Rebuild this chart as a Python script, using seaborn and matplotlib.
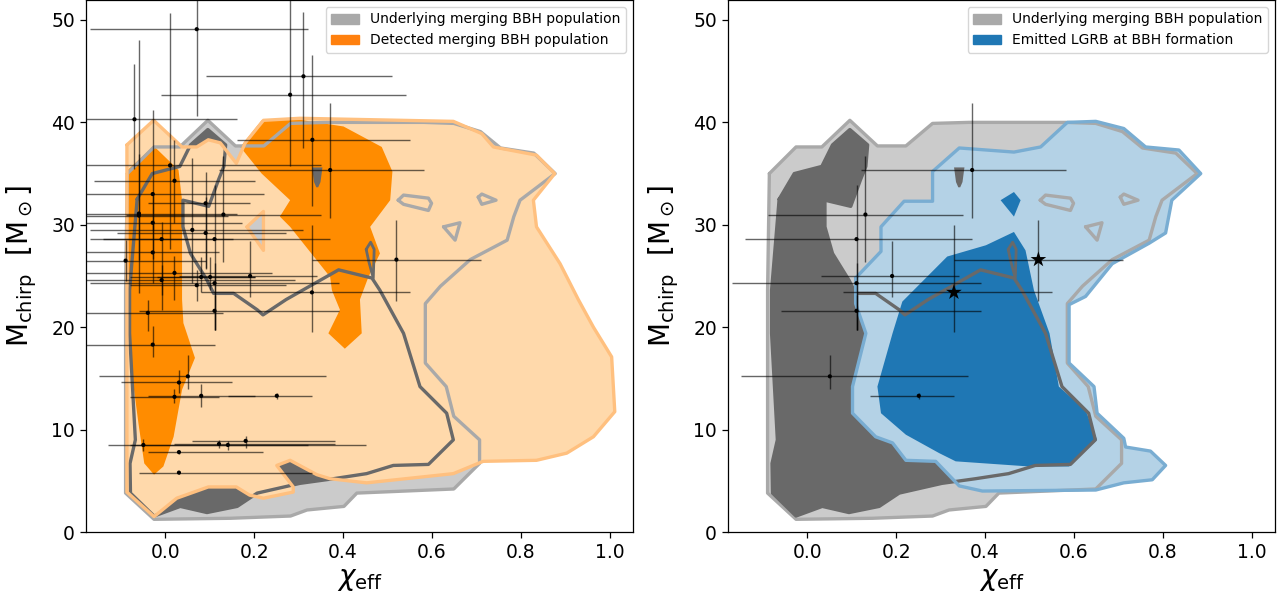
import numpy as np
import seaborn as sns
import matplotlib as mpl
mpl.use('Agg')
import matplotlib.pyplot as plt
from matplotlib.patches import Patch

# ---- contour outlines (chi_eff, M_chirp) ----
under_outer_x = [-0.085, -0.025, 0.033, 0.096, 0.158, 0.222, 0.282, 0.364, 0.581, 0.649, 0.709, 0.754,
                 0.829, 0.877, 0.798, 0.784, 0.769, 0.686, 0.619, 0.585, 0.585, 0.632, 0.649, 0.707,
                 0.707, 0.649, 0.431, 0.402, 0.319, 0.282, 0.147, -0.025, -0.089, -0.089]
under_outer_y = [35.0, 37.6, 37.6, 40.2, 37.7, 37.7, 39.9, 40.0, 40.0, 39.9, 39.1, 37.5,
                 37.0, 35.0, 32.4, 30.8, 28.5, 26.6, 24.0, 22.3, 16.5, 14.2, 11.3, 9.0,
                 6.7, 4.2, 3.8, 2.5, 2.15, 1.56, 1.34, 1.24, 3.8, 23.6]

under_inner_x = [-0.063, -0.029, 0.033, 0.057, 0.096, 0.136, 0.132, 0.12, 0.098, 0.04, 0.04, 0.057,
                 0.094, 0.109, 0.154, 0.207, 0.22, 0.272, 0.39, 0.465, 0.483, 0.536, 0.573, 0.633,
                 0.648, 0.592, 0.513, 0.453, 0.378, 0.303, 0.207, 0.162, 0.094, 0.034, -0.025,
                 -0.078, -0.079, -0.067, -0.08, -0.08]
under_inner_y = [32.5, 35.0, 35.7, 37.8, 39.3, 37.8, 35.7, 34.4, 31.8, 32.4, 29.8, 27.2,
                 24.6, 23.3, 23.3, 21.7, 21.2, 22.7, 25.6, 24.8, 23.6, 19.4, 14.2, 11.6,
                 9.0, 6.6, 6.5, 5.7, 5.2, 4.75, 3.8, 2.5, 1.9, 2.5, 1.56,
                 3.8, 6.7, 9.0, 19.4, 23.6]

drop_x = [0.333, 0.351, 0.347, 0.342, 0.337]
drop_y = [35.5, 35.5, 34.2, 33.7, 34.2]
loop_x = [0.452, 0.462, 0.470, 0.468, 0.458]
loop_y = [27.6, 28.3, 27.6, 24.8, 26.4]

isl_rect_x = [0.524, 0.536, 0.592, 0.599, 0.592, 0.536]
isl_rect_y = [32.4, 32.9, 32.6, 32.1, 31.4, 32.0]
isl_tri_x = [0.626, 0.663, 0.652]
isl_tri_y = [29.8, 30.2, 28.5]
isl_small_x = [0.704, 0.712, 0.744, 0.712]
isl_small_y = [32.7, 33.0, 32.4, 32.0]

det_outer_x = [-0.086, -0.026, 0.038, 0.071, 0.097, 0.124, 0.16, 0.18, 0.221, 0.303, 0.648, 0.712,
               0.738, 0.835, 0.876, 0.828, 0.835, 0.888, 0.929, 0.963, 1.004, 1.011, 0.963, 0.903,
               0.835, 0.715, 0.648, 0.453, 0.371, 0.341, 0.281, 0.251, 0.288, 0.288, 0.221, 0.19,
               0.16, 0.097, 0.026, -0.025, -0.086]
det_outer_y = [37.8, 40.2, 37.6, 37.6, 38.3, 38.0, 36.0, 38.0, 40.2, 40.4, 40.1, 38.9,
               37.6, 36.8, 35.0, 32.4, 29.8, 26.2, 22.7, 20.0, 17.1, 11.75, 9.3, 7.7,
               7.0, 6.9, 5.7, 4.8, 5.2, 5.6, 7.0, 6.5, 4.4, 3.9, 3.3, 3.6,
               4.4, 4.4, 3.3, 1.5, 3.9]
det_hole_x = [0.184, 0.221, 0.221]
det_hole_y = [29.8, 31.3, 27.5]

det_inner_a_x = [-0.084, -0.026, 0.03, 0.038, 0.038, 0.041, 0.067, 0.038, 0.019, -0.004, -0.025,
                 -0.047, -0.06, -0.071, -0.082]
det_inner_a_y = [35.35, 37.7, 35.35, 32.4, 22.7, 20.4, 17.0, 13.9, 9.3, 6.4, 5.6,
                 6.7, 10.6, 14.2, 20.4]
det_inner_b_x = [0.169, 0.217, 0.281, 0.401, 0.487, 0.511, 0.506, 0.461, 0.483, 0.457, 0.438,
                 0.442, 0.404, 0.367, 0.393, 0.375, 0.371, 0.281, 0.258, 0.281, 0.217]
det_inner_b_y = [37.6, 40.2, 40.4, 39.6, 37.6, 35.2, 32.4, 29.8, 27.2, 24.9, 22.7,
                 19.4, 17.9, 19.4, 21.7, 23.6, 24.9, 29.8, 30.8, 32.4, 35.0]

emit_outer_x = [0.109, 0.166, 0.166, 0.218, 0.282, 0.282, 0.342, 0.465, 0.525, 0.585, 0.649, 0.712,
                0.761, 0.836, 0.885, 0.82, 0.806, 0.769, 0.686, 0.626, 0.589, 0.589, 0.645, 0.652,
                0.712, 0.716, 0.772, 0.806, 0.776, 0.712, 0.649, 0.394, 0.342, 0.289, 0.222, 0.192,
                0.154, 0.102, 0.102, 0.132, 0.109]
emit_outer_y = [24.8, 27.4, 29.8, 32.3, 32.3, 35.2, 37.5, 37.1, 37.6, 40.0, 40.1, 39.4,
                37.6, 37.3, 35.0, 32.4, 29.2, 28.2, 26.2, 23.0, 22.2, 16.5, 14.2, 11.6,
                9.15, 8.3, 7.9, 6.5, 5.1, 4.8, 4.1, 4.0, 4.5, 6.9, 7.0, 8.7,
                9.3, 11.6, 14.2, 19.4, 22.3]
emit_inner_x = [0.214, 0.315, 0.402, 0.465, 0.491, 0.51, 0.545, 0.566, 0.626, 0.652, 0.589, 0.499,
                0.334, 0.297, 0.222, 0.166, 0.158, 0.192]
emit_inner_y = [22.5, 26.9, 28.0, 29.3, 27.5, 23.6, 19.4, 14.2, 11.9, 9.0, 6.4, 6.4,
                6.9, 7.7, 9.5, 11.6, 14.2, 19.4]
emit_isl_x = [0.435, 0.465, 0.48, 0.465]
emit_isl_y = [32.4, 33.2, 32.4, 30.8]

# ---- detected events ----
ev_chi = [0.071, -0.069, 0.011, 0.021, -0.028, -0.059, -0.059, -0.028, 0.131, 0.091, 0.061, 0.091,
          0.111, -0.008, -0.028, -0.089, 0.021, 0.081, 0.101, 0.191, -0.008, 0.071, 0.111, 0.330,
          0.520, -0.039, 0.111, -0.028, 0.051, 0.031, 0.021, 0.081, 0.251, -0.049, 0.031, 0.031,
          0.121, 0.141, 0.181, 0.311, 0.281, 0.331, 0.371]
ev_chi_lo = [0.24, 0.12, 0.20, 0.18, 0.16, 0.13, 0.15, 0.15, 0.22, 0.13, 0.23, 0.20,
             0.25, 0.16, 0.15, 0.09, 0.20, 0.16, 0.12, 0.16, 0.17, 0.15, 0.28, 0.25,
             0.19, 0.14, 0.17, 0.15, 0.20, 0.13, 0.10, 0.12, 0.11, 0.08, 0.07, 0.09,
             0.10, 0.22, 0.12, 0.22, 0.29, 0.17, 0.25]
ev_chi_hi = [0.25, 0.23, 0.34, 0.18, 0.25, 0.22, 0.20, 0.20, 0.22, 0.10, 0.25, 0.18,
             0.26, 0.16, 0.15, 0.18, 0.22, 0.12, 0.10, 0.15, 0.30, 0.20, 0.28, 0.22,
             0.19, 0.17, 0.28, 0.14, 0.31, 0.12, 0.10, 0.12, 0.08, 0.37, 0.19, 0.30,
             0.26, 0.31, 0.20, 0.20, 0.26, 0.22, 0.21]
ev_mc = [49.1, 40.3, 35.8, 34.3, 33.0, 31.1, 30.9, 30.2, 31.0, 32.1, 29.5, 29.2,
         28.6, 28.6, 27.3, 26.5, 25.3, 24.9, 24.9, 25.0, 24.6, 24.1, 24.3, 23.4,
         26.6, 21.4, 21.6, 18.3, 15.2, 14.6, 13.2, 13.3, 13.3, 8.5, 7.8, 5.8,
         8.6, 8.5, 8.9, 44.5, 42.7, 38.3, 35.35]
ev_mc_lo = [8.5, 4.9, 8.2, 4.1, 3.5, 4.5, 7.6, 3.5, 4.6, 6.3, 5.2, 3.5,
            8.9, 6.9, 3.0, 2.0, 2.6, 1.5, 1.3, 2.1, 1.5, 1.5, 4.6, 3.9,
            4.0, 1.8, 1.9, 1.2, 1.2, 1.0, 0.6, 1.1, 0.3, 0.6, 0.2, 0.1,
            0.4, 0.5, 0.7, 7.0, 7.0, 6.5, 4.7]
ev_mc_hi = [8.0, 5.4, 14.9, 4.0, 8.2, 16.9, 6.0, 3.0, 5.7, 3.1, 7.0, 3.5,
            5.3, 1.7, 3.0, 2.0, 1.7, 2.0, 2.0, 3.4, 1.5, 1.5, 2.0, 6.6,
            3.9, 1.3, 1.5, 1.8, 2.1, 1.2, 0.8, 1.2, 0.3, 0.55, 0.2, 0.1,
            0.4, 0.4, 0.5, 6.3, 10.0, 8.3, 6.5]
lgrb_dots = [42, 8, 12, 22, 26, 19, 28, 32]
lgrb_stars = [23, 24]

LGRAY, GEDGE, DGRAY = '#cbcbcb', '#a9a9a9', '#696969'
LORANGE, OEDGE, DORANGE = '#ffd9ab', '#ffc07f', '#ff8c00'
LBLUE, BEDGE, DBLUE = '#b4d2e6', '#79add2', '#1f77b4'

sns.set_style('ticks')
plt.rcParams['font.family'] = ['DejaVu Sans']
plt.rcParams['mathtext.fontset'] = 'dejavusans'
plt.rcParams['axes.edgecolor'] = 'black'
plt.rcParams['axes.linewidth'] = 0.9
plt.rcParams['text.color'] = 'black'
plt.rcParams['axes.labelcolor'] = 'black'
plt.rcParams['xtick.color'] = 'black'
plt.rcParams['ytick.color'] = 'black'


def closed(x, y):
    return list(x) + [x[0]], list(y) + [y[0]]


def draw_underlying(ax):
    ax.fill(under_outer_x, under_outer_y, color=LGRAY, lw=0, zorder=1)
    ax.fill(under_inner_x, under_inner_y, color=DGRAY, lw=0, zorder=1.1)


def draw_underlying_lines(ax, island_fill):
    x, y = closed(under_outer_x, under_outer_y)
    ax.plot(x, y, color=GEDGE, lw=2.4, zorder=3)
    for ix, iy in [(isl_rect_x, isl_rect_y), (isl_tri_x, isl_tri_y), (isl_small_x, isl_small_y)]:
        ax.fill(ix, iy, color=island_fill, lw=0, zorder=3)
        x, y = closed(ix, iy)
        ax.plot(x, y, color=GEDGE, lw=2.4, zorder=3.05)
    x, y = closed(under_inner_x, under_inner_y)
    ax.plot(x, y, color=DGRAY, lw=2.4, zorder=3.1)
    ax.fill(drop_x, drop_y, color=DGRAY, lw=1.5, edgecolor=DGRAY, zorder=3.1)
    x, y = closed(loop_x, loop_y)
    ax.plot(x, y, color=DGRAY, lw=2.0, zorder=3.1)


def draw_events(ax, idx, stars=()):
    idx = list(idx) + list(stars)
    ax.errorbar([ev_chi[i] for i in idx], [ev_mc[i] for i in idx],
                xerr=[[ev_chi_lo[i] for i in idx], [ev_chi_hi[i] for i in idx]],
                yerr=[[ev_mc_lo[i] for i in idx], [ev_mc_hi[i] for i in idx]],
                fmt='none', ecolor='black', elinewidth=1.0, alpha=0.6, zorder=4)
    dots = [i for i in idx if i not in stars]
    sns.scatterplot(x=[ev_chi[i] for i in dots], y=[ev_mc[i] for i in dots], ax=ax,
                    color='black', s=9, edgecolor='none', zorder=5, legend=False)
    if stars:
        sns.scatterplot(x=[ev_chi[i] for i in stars], y=[ev_mc[i] for i in stars], ax=ax,
                        color='black', marker='*', s=140, edgecolor='none', zorder=5, legend=False)


def style(ax):
    ax.set_xlim(-0.178, 1.052)
    ax.set_ylim(0, 51.95)
    ax.set_xticks([0.0, 0.2, 0.4, 0.6, 0.8, 1.0])
    ax.set_yticks([0, 10, 20, 30, 40, 50])
    ax.tick_params(labelsize=13.5, length=4.5, width=0.9, colors='black')
    ax.set_xlabel(r'$\chi_{\rm eff}$', fontsize=20, labelpad=2)
    ax.set_ylabel(r'$\mathrm{M_{chirp}}\ \ \mathrm{[M_\odot]}$', fontsize=20, labelpad=9)


fig = plt.figure(figsize=(12.88, 6.02), dpi=100)
ax1 = fig.add_axes([86 / 1288, 70 / 602, 547 / 1288, 532 / 602])
ax2 = fig.add_axes([728 / 1288, 70 / 602, 547 / 1288, 532 / 602])

# left: detected population
draw_underlying(ax1)
ax1.fill(det_outer_x, det_outer_y, color=LORANGE, lw=0, zorder=2)
ax1.fill(det_hole_x, det_hole_y, color=LGRAY, lw=0, zorder=2.05)
ax1.fill(det_inner_a_x, det_inner_a_y, color=DORANGE, lw=0, zorder=2.1)
ax1.fill(det_inner_b_x, det_inner_b_y, color=DORANGE, lw=0, zorder=2.1)
draw_underlying_lines(ax1, LORANGE)
x, y = closed(det_outer_x, det_outer_y)
ax1.plot(x, y, color=OEDGE, lw=2.4, zorder=3.3)
x, y = closed(det_hole_x, det_hole_y)
ax1.plot(x, y, color=OEDGE, lw=2.4, zorder=3.3)
draw_events(ax1, range(len(ev_chi)))
style(ax1)
ax1.legend(handles=[Patch(color=GEDGE, label='Underlying merging BBH population'),
                    Patch(color='#ff800e', label='Detected merging BBH population')],
           loc='upper right', fontsize=10, frameon=True)

# right: LGRB emitted at formation
draw_underlying(ax2)
ax2.fill(emit_outer_x, emit_outer_y, color=LBLUE, lw=0, zorder=2)
ax2.fill(emit_inner_x, emit_inner_y, color=DBLUE, lw=0, zorder=2.1)
ax2.fill(emit_isl_x, emit_isl_y, color=DBLUE, lw=0, zorder=2.1)
draw_underlying_lines(ax2, LBLUE)
x, y = closed(emit_outer_x, emit_outer_y)
ax2.plot(x, y, color=BEDGE, lw=2.4, zorder=3.3)
draw_events(ax2, lgrb_dots, stars=lgrb_stars)
style(ax2)
ax2.legend(handles=[Patch(color=GEDGE, label='Underlying merging BBH population'),
                    Patch(color=DBLUE, label='Emitted LGRB at BBH formation')],
           loc='upper right', fontsize=10, frameon=True)

fig.savefig('out.png', dpi=100)
